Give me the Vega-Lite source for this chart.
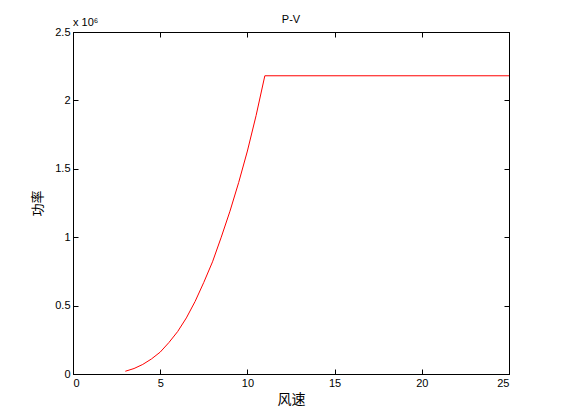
{
  "$schema": "https://vega.github.io/schema/vega-lite/v6.json",
  "width": 436,
  "height": 342,
  "autosize": {"type": "none"},
  "padding": {"left": 73, "top": 32, "right": 52, "bottom": 46},
  "background": "white",
  "title": {"text": "P-V", "font": "Liberation Sans", "fontSize": 11, "fontWeight": "normal", "color": "black", "offset": -8},
  "config": {
    "view": {"stroke": "black", "strokeWidth": 1},
    "axis": {"grid": false, "domainColor": "black", "tickColor": "black", "labelColor": "black", "titleColor": "black", "labelFont": "Liberation Sans", "labelFontSize": 11, "tickSize": -5, "labelPadding": 8, "domain": true, "format": "~g"}
  },
  "data": {"values": [
    {"v": 3, "p": 0.02},
    {"v": 3.5, "p": 0.04},
    {"v": 4, "p": 0.07},
    {"v": 4.5, "p": 0.11},
    {"v": 5, "p": 0.16},
    {"v": 5.5, "p": 0.23},
    {"v": 6, "p": 0.31},
    {"v": 6.5, "p": 0.41},
    {"v": 7, "p": 0.53},
    {"v": 7.5, "p": 0.67},
    {"v": 8, "p": 0.82},
    {"v": 8.5, "p": 1.0},
    {"v": 9, "p": 1.19},
    {"v": 9.5, "p": 1.4},
    {"v": 10, "p": 1.63},
    {"v": 10.5, "p": 1.89},
    {"v": 11, "p": 2.18},
    {"v": 25, "p": 2.18}
  ]},
  "layer": [
    {
      "mark": {"type": "line", "color": "red", "strokeWidth": 1},
      "encoding": {
        "x": {"field": "v", "type": "quantitative", "scale": {"domain": [0, 25], "nice": false},
              "axis": {"orient": "bottom", "values": [0, 5, 10, 15, 20, 25], "format": "~g", "title": "风速", "titleFont": "Noto Sans CJK SC", "titleFontSize": 14, "titleFontWeight": "normal", "titlePadding": 4}},
        "y": {"field": "p", "type": "quantitative", "scale": {"domain": [0, 2.5], "nice": false},
              "axis": {"orient": "left", "values": [0, 0.5, 1, 1.5, 2, 2.5], "format": "~g", "title": "功率", "titleFont": "Noto Sans CJK SC", "titleFontSize": 13, "titleFontWeight": "normal", "titlePadding": 10}}
      }
    },
    {
      "data": {"values": [{"v": 0, "p": 2.5, "t": "x 10⁶"}]},
      "mark": {"type": "text", "align": "left", "baseline": "bottom", "dy": -4, "dx": 0, "font": "Liberation Sans", "fontSize": 11, "color": "black"},
      "encoding": {
        "x": {"field": "v", "type": "quantitative", "axis": {"orient": "top", "values": [0, 5, 10, 15, 20, 25], "labels": false, "title": null}},
        "y": {"field": "p", "type": "quantitative", "axis": {"orient": "right", "values": [0, 0.5, 1, 1.5, 2, 2.5], "labels": false, "title": null}},
        "text": {"field": "t"}
      }
    }
  ],
  "resolve": {"axis": {"x": "independent", "y": "independent"}}
}
